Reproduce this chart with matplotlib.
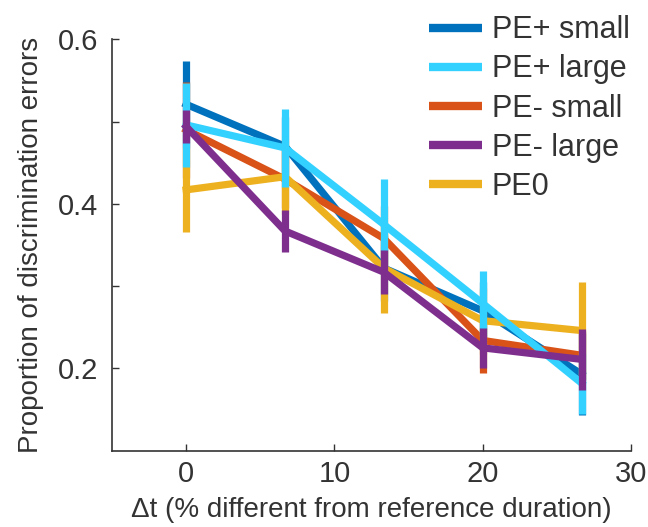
import numpy as np
import matplotlib.pyplot as plt

plt.rcParams['font.family'] = ['Liberation Sans', 'DejaVu Sans']

# time difference (% of reference duration)
dt = [0, 6.67, 13.33, 20, 26.67]

labels = ['PE+ small', 'PE+ large', 'PE- small', 'PE- large', 'PE0']
colors = ['#0072BD', '#33D1FF', '#D95319', '#7E2F8E', '#EDB120']

pe_plus_small = [0.521, 0.470, 0.322, 0.270, 0.193]
pe_plus_small_err = [0.053, 0.035, 0.040, 0.035, 0.050]
pe_plus_large = [0.496, 0.468, 0.375, 0.279, 0.182]
pe_plus_large_err = [0.051, 0.047, 0.055, 0.040, 0.037]
pe_minus_small = [0.490, 0.430, 0.358, 0.234, 0.216]
pe_minus_small_err = [0.058, 0.035, 0.040, 0.040, 0.030]
pe_minus_large = [0.494, 0.367, 0.317, 0.225, 0.211]
pe_minus_large_err = [0.020, 0.025, 0.027, 0.024, 0.037]
pe_zero = [0.417, 0.433, 0.322, 0.258, 0.246]
pe_zero_err = [0.051, 0.045, 0.055, 0.040, 0.059]

means = [pe_plus_small, pe_plus_large, pe_minus_small, pe_minus_large, pe_zero]
errs = [pe_plus_small_err, pe_plus_large_err, pe_minus_small_err,
        pe_minus_large_err, pe_zero_err]
# stacking order of the curves (higher is on top)
zorders = [2, 5, 3, 6, 4]

txt = '#333333'

fig = plt.figure(figsize=(6.48, 5.27), dpi=100)
ax = fig.add_axes([0.1728, 0.1448, 0.8010, 0.7806])

handles = []
for m, e, c, lab, z in zip(means, errs, colors, labels, zorders):
    ax.errorbar(dt, m, yerr=e, color=c, lw=5.2, elinewidth=5.2, capsize=0,
                zorder=z)
    h, = ax.plot([], [], color=c, lw=6, solid_capstyle='butt', label=lab)
    handles.append(h)

ax.set_xlim(-5, 30)
ax.set_ylim(0.1, 0.6)
ax.set_xticks([0, 10, 20, 30])
ax.set_yticks([0.2, 0.3, 0.4, 0.5, 0.6])
ax.set_yticklabels(['0.2', '', '0.4', '', '0.6'])
ax.tick_params(direction='in', length=5, width=1, colors=txt,
               labelsize=21)
ax.tick_params(axis='y', pad=10)
ax.tick_params(axis='x', pad=7)
for s in ['top', 'right']:
    ax.spines[s].set_visible(False)
for s in ['left', 'bottom']:
    ax.spines[s].set_color(txt)
    ax.spines[s].set_linewidth(1.2)

ax.set_xlabel('\u0394t (% different from reference duration)', fontsize=20,
              color=txt, labelpad=6)
ax.set_ylabel('Proportion of discrimination errors', fontsize=20,
              color=txt, labelpad=10)

leg = fig.legend(handles=handles, loc='upper right',
                 bbox_to_anchor=(0.995, 1.0), frameon=False, fontsize=22,
                 handlelength=1.75, handletextpad=0.3, labelspacing=0.3,
                 borderaxespad=0.1)
for t in leg.get_texts():
    t.set_color(txt)

fig.savefig('out.png', dpi=100)
